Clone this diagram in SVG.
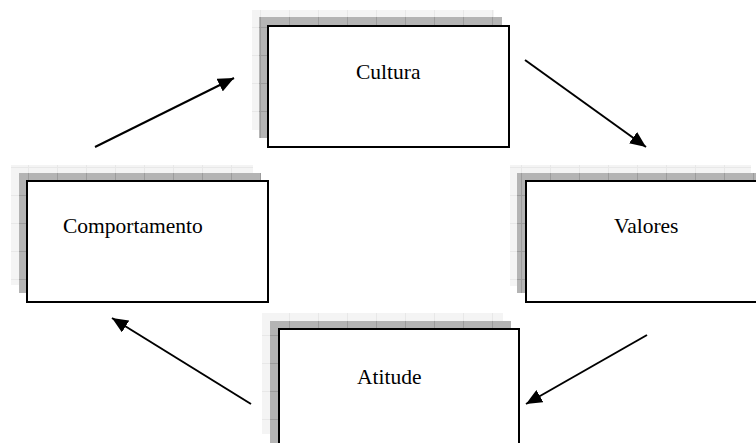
<svg xmlns="http://www.w3.org/2000/svg" width="756" height="443" viewBox="0 0 756 443">
  <style>
    .light { fill: url(#lightGrid); }
    .dark { fill: url(#darkGrid); }
    .box { fill: #ffffff; stroke: #000000; stroke-width: 2; }
    .lbl { font-family: "Liberation Serif", "Times New Roman", serif; font-size: 21.5px; fill: #000000; }
    .conn { stroke: #000000; stroke-width: 2; fill: none; marker-end: url(#arrow); }
  </style>
  <defs>
    <pattern id="lightGrid" patternUnits="userSpaceOnUse" width="29" height="28">
      <rect width="29" height="28" fill="#f4f4f4"/>
      <path d="M28.5,0 V28 M0,27.5 H29" stroke="#e8e8e8" stroke-width="1"/>
    </pattern>
    <pattern id="darkGrid" patternUnits="userSpaceOnUse" width="29" height="28">
      <rect width="29" height="28" fill="#b4b4b4"/>
      <path d="M28.5,0 V28 M0,27.5 H29" stroke="#9c9c9c" stroke-width="1"/>
    </pattern>
    <marker id="arrow" markerUnits="userSpaceOnUse" markerWidth="17" markerHeight="14" refX="16" refY="7" orient="auto">
      <path d="M0,0 L16,7 L0,14 Z" fill="#000000"/>
    </marker>
  </defs>

  <g id="node-cultura">
    <rect class="light" x="252" y="10" width="242" height="120"/>
    <rect class="dark" x="259" y="17" width="243" height="121"/>
    <rect class="box" x="268" y="26" width="241" height="121"/>
    <text class="lbl" x="356" y="79">Cultura</text>
  </g>

  <g id="node-comportamento">
    <rect class="light" x="11" y="165" width="242" height="120"/>
    <rect class="dark" x="19" y="173" width="242" height="120"/>
    <rect class="box" x="27" y="181" width="241" height="121"/>
    <text class="lbl" x="63" y="233">Comportamento</text>
  </g>

  <g id="node-valores">
    <rect class="light" x="510" y="165" width="241" height="121"/>
    <rect class="dark" x="517" y="173" width="250" height="120"/>
    <rect class="box" x="526" y="181" width="241" height="121"/>
    <text class="lbl" x="614" y="233">Valores</text>
  </g>

  <g id="node-atitude">
    <rect class="light" x="262" y="313" width="241" height="121"/>
    <rect class="dark" x="270" y="321" width="241" height="130"/>
    <rect class="box" x="279" y="329" width="240" height="130"/>
    <text class="lbl" x="357" y="384">Atitude</text>
  </g>

  <g id="connectors">
    <line class="conn" x1="95" y1="147" x2="234" y2="78"/>
    <line class="conn" x1="525" y1="60" x2="646" y2="147"/>
    <line class="conn" x1="647" y1="335" x2="526" y2="404"/>
    <line class="conn" x1="251" y1="404" x2="112" y2="318"/>
  </g>
</svg>
